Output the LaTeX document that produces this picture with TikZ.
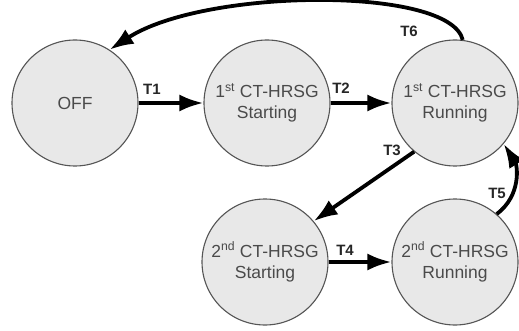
\documentclass[tikz,border=0pt]{standalone}
\usepackage{fontspec}
\setmainfont{Liberation Sans}
\usetikzlibrary{arrows.meta}
\definecolor{statefill}{HTML}{E8E8E8}
\definecolor{stateline}{HTML}{555555}
\definecolor{statetext}{HTML}{4A4A4A}
\begin{document}
\begin{tikzpicture}[x=1pt,y=-1pt,
  state/.style={circle,draw=stateline,line width=1.1pt,fill=statefill,minimum size=126pt,inner sep=0pt,
    font=\fontsize{17.5}{21}\selectfont,text=statetext,align=center},
  trans/.style={line width=3.8pt,-{Latex[length=24pt,width=17pt]}},
  tlabel/.style={font=\fontsize{15}{17}\selectfont\bfseries,text=black!85,inner sep=0pt}]
\useasboundingbox (0,0) rectangle (519,331);
\node[state] (off) at (75,103) {OFF};
\node[state] (s1) at (267,103) {1\textsuperscript{st} CT-HRSG\\Starting};
\node[state] (r1) at (455,103) {1\textsuperscript{st} CT-HRSG\\Running};
\node[state] (s2) at (265,262) {2\textsuperscript{nd} CT-HRSG\\Starting};
\node[state] (r2) at (455,262) {2\textsuperscript{nd} CT-HRSG\\Running};
\draw[trans] (off) -- (s1);
\draw[trans] (s1) -- (r1);
\draw[trans] (r1.230) -- (s2.40);
\draw[trans] (s2) -- (r2);
\draw[trans] (r2.49) .. controls (522,195) and (517,165) .. (r1.-40);
\draw[trans] (r1.83) .. controls (450,-14) and (205,-12) .. (off.57);
\node[tlabel] (t1) at (152,89) {T1};
\node[tlabel] (t2) at (341,88) {T2};
\node[tlabel] (t3) at (392,150) {T3};
\node[tlabel] (t4) at (345,250) {T4};
\node[tlabel] (t5) at (497,193) {T5};
\node[tlabel] (t6) at (409,31) {T6};
\end{tikzpicture}
\end{document}
